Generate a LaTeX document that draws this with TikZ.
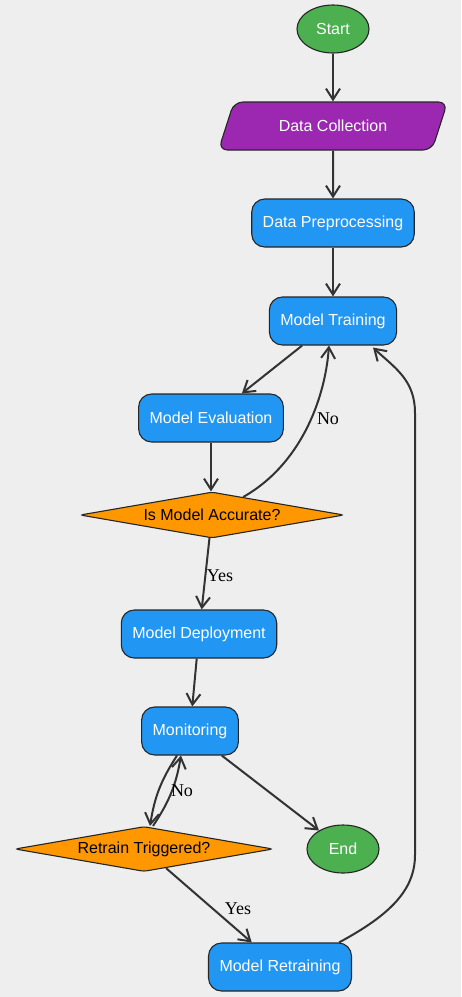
\documentclass[tikz,border=0pt]{standalone}
\usepackage{fontspec}
\setmainfont{Liberation Sans}
\newfontfamily\lblfont{Liberation Serif}
\usetikzlibrary{shapes.geometric,arrows.meta,calc}
\definecolor{bgcol}{HTML}{EEEEEE}
\definecolor{termcol}{HTML}{4CAF50}
\definecolor{iocol}{HTML}{9C27B0}
\definecolor{stepcol}{HTML}{2196F3}
\definecolor{askcol}{HTML}{FF9800}
\definecolor{linecol}{HTML}{333333}
%
\tikzstyle{base}=[draw=black!85,line width=1.1pt,font=\fontsize{16}{19}\selectfont,text=white]
\tikzstyle{terminal}=[base,ellipse,fill=termcol,minimum width=72pt,minimum height=48pt,inner sep=0pt]
\tikzstyle{io}=[base,trapezium,trapezium left angle=50,trapezium right angle=130,trapezium stretches body,fill=iocol,minimum width=229pt,minimum height=48pt,rounded corners=9pt]
\tikzstyle{process}=[base,rectangle,rounded corners=13pt,fill=stepcol,minimum height=48pt,inner xsep=11pt]
\tikzstyle{decision}=[base,diamond,aspect=5.7,fill=askcol,text=black,inner sep=0pt,rounded corners=3pt]
\tikzstyle{arr}=[draw=linecol,line width=2pt,-{Straight Barb[length=11pt,width=14pt]}]
\tikzstyle{lbl}=[font=\lblfont\fontsize{18}{20}\selectfont,inner sep=0pt]

\begin{document}
\begin{tikzpicture}[x=1pt,y=1pt]
\fill[bgcol] (0,0) rectangle (461,-997);
\useasboundingbox (0,0) rectangle (461,-997);
%
\node[terminal] (start) at (333,-29) {Start};
\node[io] (collect) at (333,-126) {Data Collection};
\node[process] (prep) at (333,-223) {Data Preprocessing};
\node[process] (train) at (333,-321) {Model Training};
\node[process] (eval) at (211,-418) {Model Evaluation};
\node[decision,minimum width=264pt,minimum height=46pt] (accurate) at (212,-515) {Is Model Accurate?};
\node[process] (deploy) at (199,-634) {Model Deployment};
\node[process] (monitor) at (190,-731) {Monitoring};
\node[decision,minimum width=258pt,minimum height=45pt] (retrain) at (144,-849) {Retrain Triggered?};
\node[terminal] (stop) at (343,-849) {End};
\node[process] (retraining) at (280,-967) {Model Retraining};
%
\draw[arr] (start) -- (collect);
\draw[arr] (collect) -- (prep);
\draw[arr] (prep) -- (train);
\draw[arr] (train) -- (eval);
\draw[arr] (eval.south) -- (eval.south |- accurate.north);
\draw[arr] (accurate.30) .. controls (300,-465) and (325,-400) .. ($(train.south)+(-4,0)$);
\node[lbl] (no1) at (328,-419) {No};
\draw[arr] (accurate) -- (deploy);
\node[lbl] (yes1) at (220,-576) {Yes};
\draw[arr] (deploy) -- (monitor);
%
\draw[arr] ($(monitor.south)+(-13,0)$) to[bend right=12] ($(retrain.north)+(6,0)$);
\draw[arr] ($(retrain.north)+(9,0)$) to[bend right=12] ($(monitor.south)+(-9,0)$);
\node[lbl] (no2) at (182,-791) {No};
\draw[arr] (monitor) -- (stop);
\draw[arr] (retrain) -- (retraining);
\node[lbl] (yes2) at (238,-909) {Yes};
%
\draw[arr] ($(retraining.north)+(59,0)$) .. controls (390,-915) and (415,-890) .. (415,-855)
  -- (415,-413) .. controls (415,-380) and (395,-368) .. ($(train.south)+(40,-2)$);
\end{tikzpicture}
\end{document}
